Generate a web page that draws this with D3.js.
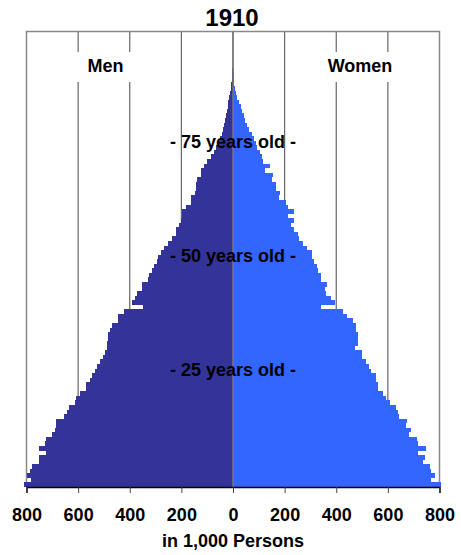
<!DOCTYPE html>
<html>
<head>
<meta charset="utf-8">
<script src="https://cdn.jsdelivr.net/npm/d3@7"></script>
<style>
  body { margin: 0; background: #fff; }
  text { font-family: "Liberation Sans", Arial, sans-serif; font-weight: bold; }
</style>
</head>
<body>
<div id="my_dataviz"></div>
<script>
// ages 0..99, values in 1,000 persons
const ages = d3.range(0, 100);

const men = [
  810, 784, 800, 788, 780, 750, 753, 726, 753, 730,
  726, 700, 688, 684, 684, 653, 645, 637, 611, 607,
  591, 568, 568, 555, 545, 533, 525, 514, 502, 495,
  487, 487, 483, 483, 475, 467, 444, 444, 421, 348,
  390, 379, 371, 352, 352, 328, 325, 313, 305, 294,
  290, 278, 267, 251, 236, 220, 220, 209, 201, 197,
  197, 182, 162, 162, 147, 143, 143, 139, 124, 124,
  112, 100, 84, 75, 66, 58, 50, 43, 39, 33,
  30, 26, 22, 20, 18, 15, 12, 8, 6, 4,
  3, 2, 1, 1, 0.5, 0.3, 0.2, 0.1, 0.1, 0.05
];

const women = [
  804, 769, 784, 769, 765, 738, 742, 715, 746, 715,
  711, 680, 688, 672, 676, 645, 638, 630, 607, 591,
  580, 560, 560, 555, 553, 533, 525, 514, 498, 498,
  471, 483, 483, 483, 475, 475, 464, 440, 425, 340,
  394, 379, 359, 355, 363, 340, 340, 328, 325, 313,
  305, 305, 286, 270, 255, 251, 236, 224, 236, 213,
  236, 213, 205, 178, 181, 166, 166, 151, 155, 124,
  143, 118, 112, 106, 93, 89, 81, 73, 62, 54,
  46, 42, 35, 31, 23, 15, 12, 8, 5, 3,
  2, 1.5, 1, 0.6, 0.4, 0.2, 0.1, 0.1, 0.05, 0.03
];

const tickValues = [-800, -600, -400, -200, 0, 200, 400, 600, 800];
const gridValues = [-600, -400, -200, 0, 200, 400, 600];
const ageLabels = [25, 50, 75];

const width = 461, height = 555;
const plot = {left: 26.5, right: 439.5, top: 31.5, bottom: 487};

const svg = d3.select("#my_dataviz")
    .append("svg")
    .attr("width", width)
    .attr("height", height);

const x = d3.scaleLinear()
    .domain([-800, 800])
    .range([plot.left, plot.right]);

const y = d3.scaleBand()
    .domain(ages)
    .range([plot.bottom, plot.top])
    .padding(0);

// gridlines
svg.append("g")
    .selectAll("line")
    .data(gridValues)
    .enter()
    .append("line")
        .attr("x1", d => x(d))
        .attr("x2", d => x(d))
        .attr("y1", plot.top)
        .attr("y2", plot.bottom)
        .attr("stroke", "#666")
        .attr("stroke-width", 1.2);

// white boxes behind the Men / Women labels
svg.append("rect").attr("x", 60).attr("y", 52).attr("width", 95).attr("height", 30).attr("fill", "#fff");
svg.append("rect").attr("x", 310).attr("y", 52).attr("width", 100).attr("height", 30).attr("fill", "#fff");

// frame (left, top, right)
svg.append("path")
    .attr("d", `M${plot.left},${plot.bottom}V${plot.top}H${plot.right}V${plot.bottom}`)
    .attr("fill", "none")
    .attr("stroke", "#888")
    .attr("stroke-width", 1.5);

// bars
svg.append("g")
    .selectAll("rect")
    .data(ages)
    .enter()
    .append("rect")
        .attr("x", d => x(-men[d]))
        .attr("y", d => y(d))
        .attr("width", d => x(0) - x(-men[d]))
        .attr("height", y.bandwidth())
        .attr("fill", "#333399")
        .attr("shape-rendering", "crispEdges");

svg.append("g")
    .selectAll("rect")
    .data(ages)
    .enter()
    .append("rect")
        .attr("x", x(0))
        .attr("y", d => y(d))
        .attr("width", d => x(women[d]) - x(0))
        .attr("height", y.bandwidth())
        .attr("fill", "#3366ff")
        .attr("shape-rendering", "crispEdges");

// center line
svg.append("line")
    .attr("x1", x(0)).attr("x2", x(0))
    .attr("y1", y(ages[ages.length - 1]))
    .attr("y2", plot.bottom)
    .attr("stroke", "#777")
    .attr("stroke-width", 1.5);

// x axis
const xAxis = svg.append("g")
    .attr("transform", `translate(0, ${plot.bottom})`)
    .call(d3.axisBottom(x).tickValues(tickValues).tickSize(6).tickPadding(15).tickFormat(d => Math.abs(d)));
xAxis.select(".domain").attr("stroke", "#000").attr("stroke-width", 1.5);
xAxis.selectAll(".tick line").attr("stroke", "#444");
xAxis.selectAll(".tick text")
    .attr("fill", "#000")
    .style("font-size", "18px")
    .style("font-family", "'Liberation Sans', Arial, sans-serif")
    .style("font-weight", "bold");

// age labels
svg.append("g")
    .selectAll("text")
    .data(ageLabels)
    .enter()
    .append("text")
        .attr("x", x(0))
        .attr("y", d => y(d) + y.bandwidth() / 2)
        .attr("dy", "0.28em")
        .attr("text-anchor", "middle")
        .style("font-size", "18px")
        .attr("fill", "#000")
        .text(d => "- " + d + " years old -");

// titles
svg.append("text")
    .attr("x", 232).attr("y", 26)
    .attr("text-anchor", "middle")
    .style("font-size", "24px")
    .text("1910");

svg.append("text")
    .attr("x", 105.5).attr("y", 71.5)
    .attr("text-anchor", "middle")
    .style("font-size", "18px")
    .text("Men");

svg.append("text")
    .attr("x", 360).attr("y", 71.5)
    .attr("text-anchor", "middle")
    .style("font-size", "18px")
    .text("Women");

svg.append("text")
    .attr("x", x(0)).attr("y", 547)
    .attr("text-anchor", "middle")
    .style("font-size", "18px")
    .text("in 1,000 Persons");
</script>
</body>
</html>
